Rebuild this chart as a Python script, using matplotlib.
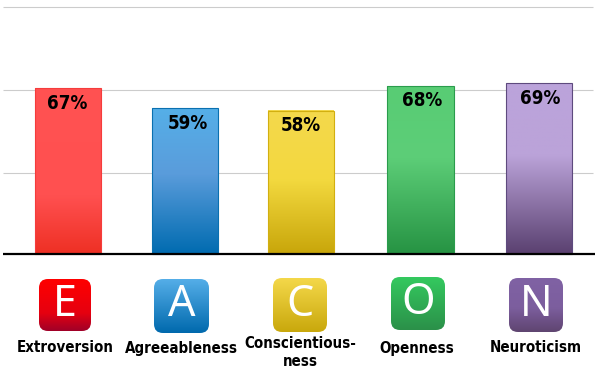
import numpy as np
import matplotlib
matplotlib.use("Agg")
import matplotlib.pyplot as plt
from matplotlib.colors import LinearSegmentedColormap
from matplotlib.patches import FancyBboxPatch

categories = ["Extroversion", "Agreeableness", "Conscientious-\nness", "Openness", "Neuroticism"]
values = [67, 59, 58, 68, 69]
letters = ["E", "A", "C", "O", "N"]
gridlines = [32.6, 66.2, 100]

W, H = 597, 370
bar_left = [35, 152, 268, 387, 506]
bar_width = [66, 66, 66, 67, 66]
value_x = [67, 188, 301, 422, 540]
icon_box = [(39, 279, 52, 52), (154, 279, 55, 54), (273, 278, 54, 54), (391, 277, 54, 53), (509, 278, 54, 54)]
label_x = [65, 181, 300, 417, 536]
label_y = [348, 348, 353, 348, 348]
bar_stops = [
    [(0, "#FF5252"), (.65, "#FF5050"), (1, "#EE3024")],
    [(0, "#55AFE8"), (.45, "#5A9CDB"), (1, "#006BB0")],
    [(0, "#F4D84C"), (.48, "#F3D93F"), (1, "#C8A60A")],
    [(0, "#58CC74"), (.42, "#5DCE78"), (1, "#269343")],
    [(0, "#BBA3DB"), (.42, "#BBA3D9"), (1, "#5A4070")],
]
bar_edges = ["#F53C3C", "#0A70B0", "#D2AF10", "#2A9C4C", "#5E4A7E"]
icon_stops = [
    [(0, "#FF0000"), (.65, "#E60010"), (1, "#A00028")],
    [(0, "#55AEE8"), (1, "#0069AD")],
    [(0, "#F4D84A"), (1, "#C9A80C")],
    [(0, "#34C95F"), (1, "#2B9049")],
    [(0, "#8062A4"), (.55, "#7C5E9E"), (1, "#5F4570")],
]

plt.rcParams["font.family"] = ["Open Sans", "DejaVu Sans"]
fig = plt.figure(figsize=(W / 100, H / 100), dpi=100, facecolor="white")

px_per = 2.468
ax = fig.add_axes([0, 0, 1, 1])
ax.set_xlim(0, W)
ax.set_ylim(-(H - 253.7) / px_per, 253.7 / px_per)
ax.axis("off")

for g in gridlines:
    ax.plot([3, 593], [g, g], color="#CCCCCC", lw=0.8, zorder=1, solid_capstyle="butt")

bars = ax.bar(bar_left, values, width=bar_width, align="edge",
              facecolor="none", edgecolor="none", zorder=3)
for b, stops, edge, val, vx in zip(bars, bar_stops, bar_edges, values, value_x):
    cmap = LinearSegmentedColormap.from_list("g", stops)
    x0, w, h = b.get_x(), b.get_width(), b.get_height()
    ax.imshow(np.linspace(0, 1, 256).reshape(-1, 1), cmap=cmap, aspect="auto",
              extent=(x0, x0 + w, 0, h), origin="upper", zorder=2,
              interpolation="bilinear")
    b.set_edgecolor(edge)
    b.set_linewidth(0.8)
    ax.text(vx, val - 15 / px_per, f"{val}%", ha="center", va="center",
            fontsize=13.5, fontweight="bold", color="black", zorder=4,
            family="DejaVu Sans", fontstretch="condensed")
ax.set_xlim(0, W)
ax.set_ylim(-(H - 253.7) / px_per, 253.7 / px_per)
ax.plot([3, 595], [0, 0], color="black", lw=1.6, zorder=5, solid_capstyle="butt")

ov = fig.add_axes([0, 0, 1, 1], facecolor="none")
ov.set_xlim(0, W)
ov.set_ylim(H, 0)
ov.axis("off")
for (x, y, w, h), stops, letter in zip(icon_box, icon_stops, letters):
    cmap = LinearSegmentedColormap.from_list("i", stops)
    im = ov.imshow(np.linspace(0, 1, 256).reshape(-1, 1), cmap=cmap, aspect="auto",
                   extent=(x, x + w, y + h, y), origin="upper", zorder=2,
                   interpolation="bilinear")
    clip = FancyBboxPatch((x + 9, y + 9), w - 18, h - 18, boxstyle="round,pad=9,rounding_size=9",
                          transform=ov.transData, facecolor="none", edgecolor="none")
    ov.add_patch(clip)
    im.set_clip_path(clip)
    ov.text(x + w / 2, y + h / 2 - 0.5, letter, ha="center", va="center", color="white",
            fontsize=31, family="Noto Sans", fontweight="normal", zorder=3)
ov.set_xlim(0, W)
ov.set_ylim(H, 0)
for name, lx, ly in zip(categories, label_x, label_y):
    ov.text(lx, ly, name, ha="center", va="center", fontsize=10.8, fontweight="bold",
            family="DejaVu Sans", color="black", linespacing=1.25,
            fontstretch="condensed", zorder=3)

fig.savefig("out.png", dpi=100, facecolor="white")
